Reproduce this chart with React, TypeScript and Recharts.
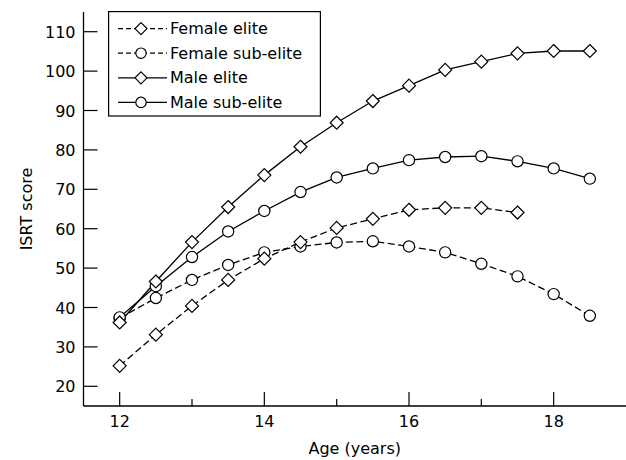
import React from 'react';
import { LineChart, Line, XAxis, YAxis, Legend, Label } from 'recharts';

const ages = [12, 12.5, 13, 13.5, 14, 14.5, 15, 15.5, 16, 16.5, 17, 17.5, 18, 18.5];
const femaleElite = [25.2, 33.1, 40.4, 47.0, 52.4, 56.6, 60.2, 62.5, 64.8, 65.3, 65.3, 64.1, null, null];
const femaleSubElite = [37.3, 42.4, 47.0, 50.8, 54.0, 55.5, 56.5, 56.8, 55.5, 54.0, 51.1, 47.9, 43.4, 37.9];
const maleElite = [36.2, 46.6, 56.6, 65.5, 73.6, 80.8, 86.9, 92.4, 96.3, 100.3, 102.4, 104.5, 105.1, 105.1];
const maleSubElite = [37.5, 45.4, 52.8, 59.3, 64.5, 69.3, 73.0, 75.3, 77.4, 78.2, 78.4, 77.1, 75.3, 72.7];
const xTicks = [12, 13, 14, 15, 16, 17, 18];
const xLabeledTicks = [12, 14, 16, 18];
const yTicks = [20, 30, 40, 50, 60, 70, 80, 90, 100, 110];
const seriesNames = ['Female elite', 'Female sub-elite', 'Male elite', 'Male sub-elite'];

const FONT = '"DejaVu Sans", sans-serif';
const FS = 16;

const data = ages.map((a, i) => ({
  age: a,
  femaleElite: femaleElite[i],
  femaleSubElite: femaleSubElite[i],
  maleElite: maleElite[i],
  maleSubElite: maleSubElite[i],
}));

const Diamond = (props: any) => {
  const { cx, cy } = props;
  if (cx == null || cy == null || props.value == null) return null;
  const r = props.size ?? 6.5;
  return (
    <path
      d={`M${cx},${cy - r}L${cx + r},${cy}L${cx},${cy + r}L${cx - r},${cy}Z`}
      fill="#fff"
      stroke="#000"
      strokeWidth={1.2}
    />
  );
};

const Circle = (props: any) => {
  const { cx, cy } = props;
  if (cx == null || cy == null || props.value == null) return null;
  const r = props.size ?? 5.6;
  return <circle cx={cx} cy={cy} r={r} fill="#fff" stroke="#000" strokeWidth={1.2} />;
};

const YTick = (props: any) => {
  const { x, y, payload } = props;
  const axisX = x + 8;
  return (
    <g>
      <line x1={axisX} x2={axisX + 14} y1={y} y2={y} stroke="#000" strokeWidth={1.2} />
      <text x={x} y={y + 6} textAnchor="end" fontFamily={FONT} fontSize={FS} fill="#000">
        {payload.value}
      </text>
    </g>
  );
};

const XTick = (props: any) => {
  const { x, y, payload } = props;
  const axisY = y - 8;
  const major = xLabeledTicks.includes(payload.value);
  return (
    <g>
      <line x1={x} x2={x} y1={axisY} y2={axisY - (major ? 14 : 7)} stroke="#000" strokeWidth={1.2} />
      {major && (
        <text x={x} y={axisY + 21} textAnchor="middle" fontFamily={FONT} fontSize={FS} fill="#000">
          {payload.value}
        </text>
      )}
    </g>
  );
};

const legendItems = [
  { name: seriesNames[0], dashed: true, marker: 'diamond' },
  { name: seriesNames[1], dashed: true, marker: 'circle' },
  { name: seriesNames[2], dashed: false, marker: 'diamond' },
  { name: seriesNames[3], dashed: false, marker: 'circle' },
];

const LegendBox = () => (
  <svg width={213} height={106} style={{ display: 'block' }}>
    <rect x={0.6} y={0.6} width={211.8} height={104.4} fill="#fff" stroke="#000" strokeWidth={1.2} />
    {legendItems.map((it, i) => {
      const cy = 17.6 + 24.6 * i;
      return (
        <g key={it.name}>
          <line
            x1={10}
            x2={59}
            y1={cy}
            y2={cy}
            stroke="#000"
            strokeWidth={1.3}
            strokeDasharray={it.dashed ? '5 3' : undefined}
          />
          {it.marker === 'diamond' ? (
            <Diamond cx={33} cy={cy} value={1} size={6} />
          ) : (
            <Circle cx={33} cy={cy} value={1} size={5.2} />
          )}
          <text x={62} y={cy + 5.5} fontFamily={FONT} fontSize={FS} fill="#000">
            {it.name}
          </text>
        </g>
      );
    })}
  </svg>
);

export default function App() {
  return (
    <div style={{ position: 'absolute', left: 0, top: 0, width: 626, height: 460, background: '#fff' }}>
      <LineChart
        width={626}
        height={460}
        data={data}
        margin={{ top: 12, right: 0, left: 0, bottom: 0 }}
      >
        <XAxis
          dataKey="age"
          type="number"
          domain={[11.5, 19]}
          ticks={xTicks}
          interval={0}
          tickSize={0}
          tickMargin={8}
          height={54}
          axisLine={{ stroke: '#000', strokeWidth: 1.3 }}
          tickLine={false}
          tick={<XTick />}
        >
          <Label
            value="Age (years)"
            position="insideBottom"
            offset={6}
            style={{ fontFamily: FONT, fontSize: FS, fill: '#000' }}
          />
        </XAxis>
        <YAxis
          type="number"
          domain={[15, 115]}
          ticks={yTicks}
          interval={0}
          tickSize={0}
          tickMargin={8}
          width={83.5}
          axisLine={{ stroke: '#000', strokeWidth: 1.3 }}
          tickLine={false}
          tick={<YTick />}
        >
          <Label
            value="ISRT score"
            angle={-90}
            position="insideLeft"
            offset={26}
            style={{ fontFamily: FONT, fontSize: FS, fill: '#000', textAnchor: 'middle' }}
          />
        </YAxis>
        <Legend
          layout="vertical"
          align="center"
          verticalAlign="middle"
          content={() => <LegendBox />}
          wrapperStyle={{ position: 'absolute', left: 108, top: 11, width: 213, height: 106 }}
        />
        <Line
          dataKey="femaleSubElite"
          name={seriesNames[1]}
          stroke="#000"
          strokeWidth={1.3}
          strokeDasharray="7 3.5"
          dot={<Circle />}
          isAnimationActive={false}
        />
        <Line
          dataKey="femaleElite"
          name={seriesNames[0]}
          stroke="#000"
          strokeWidth={1.3}
          strokeDasharray="7 3.5"
          dot={<Diamond />}
          isAnimationActive={false}
        />
        <Line
          dataKey="maleSubElite"
          name={seriesNames[3]}
          stroke="#000"
          strokeWidth={1.3}
          dot={<Circle />}
          isAnimationActive={false}
        />
        <Line
          dataKey="maleElite"
          name={seriesNames[2]}
          stroke="#000"
          strokeWidth={1.3}
          dot={<Diamond />}
          isAnimationActive={false}
        />
      </LineChart>
    </div>
  );
}
